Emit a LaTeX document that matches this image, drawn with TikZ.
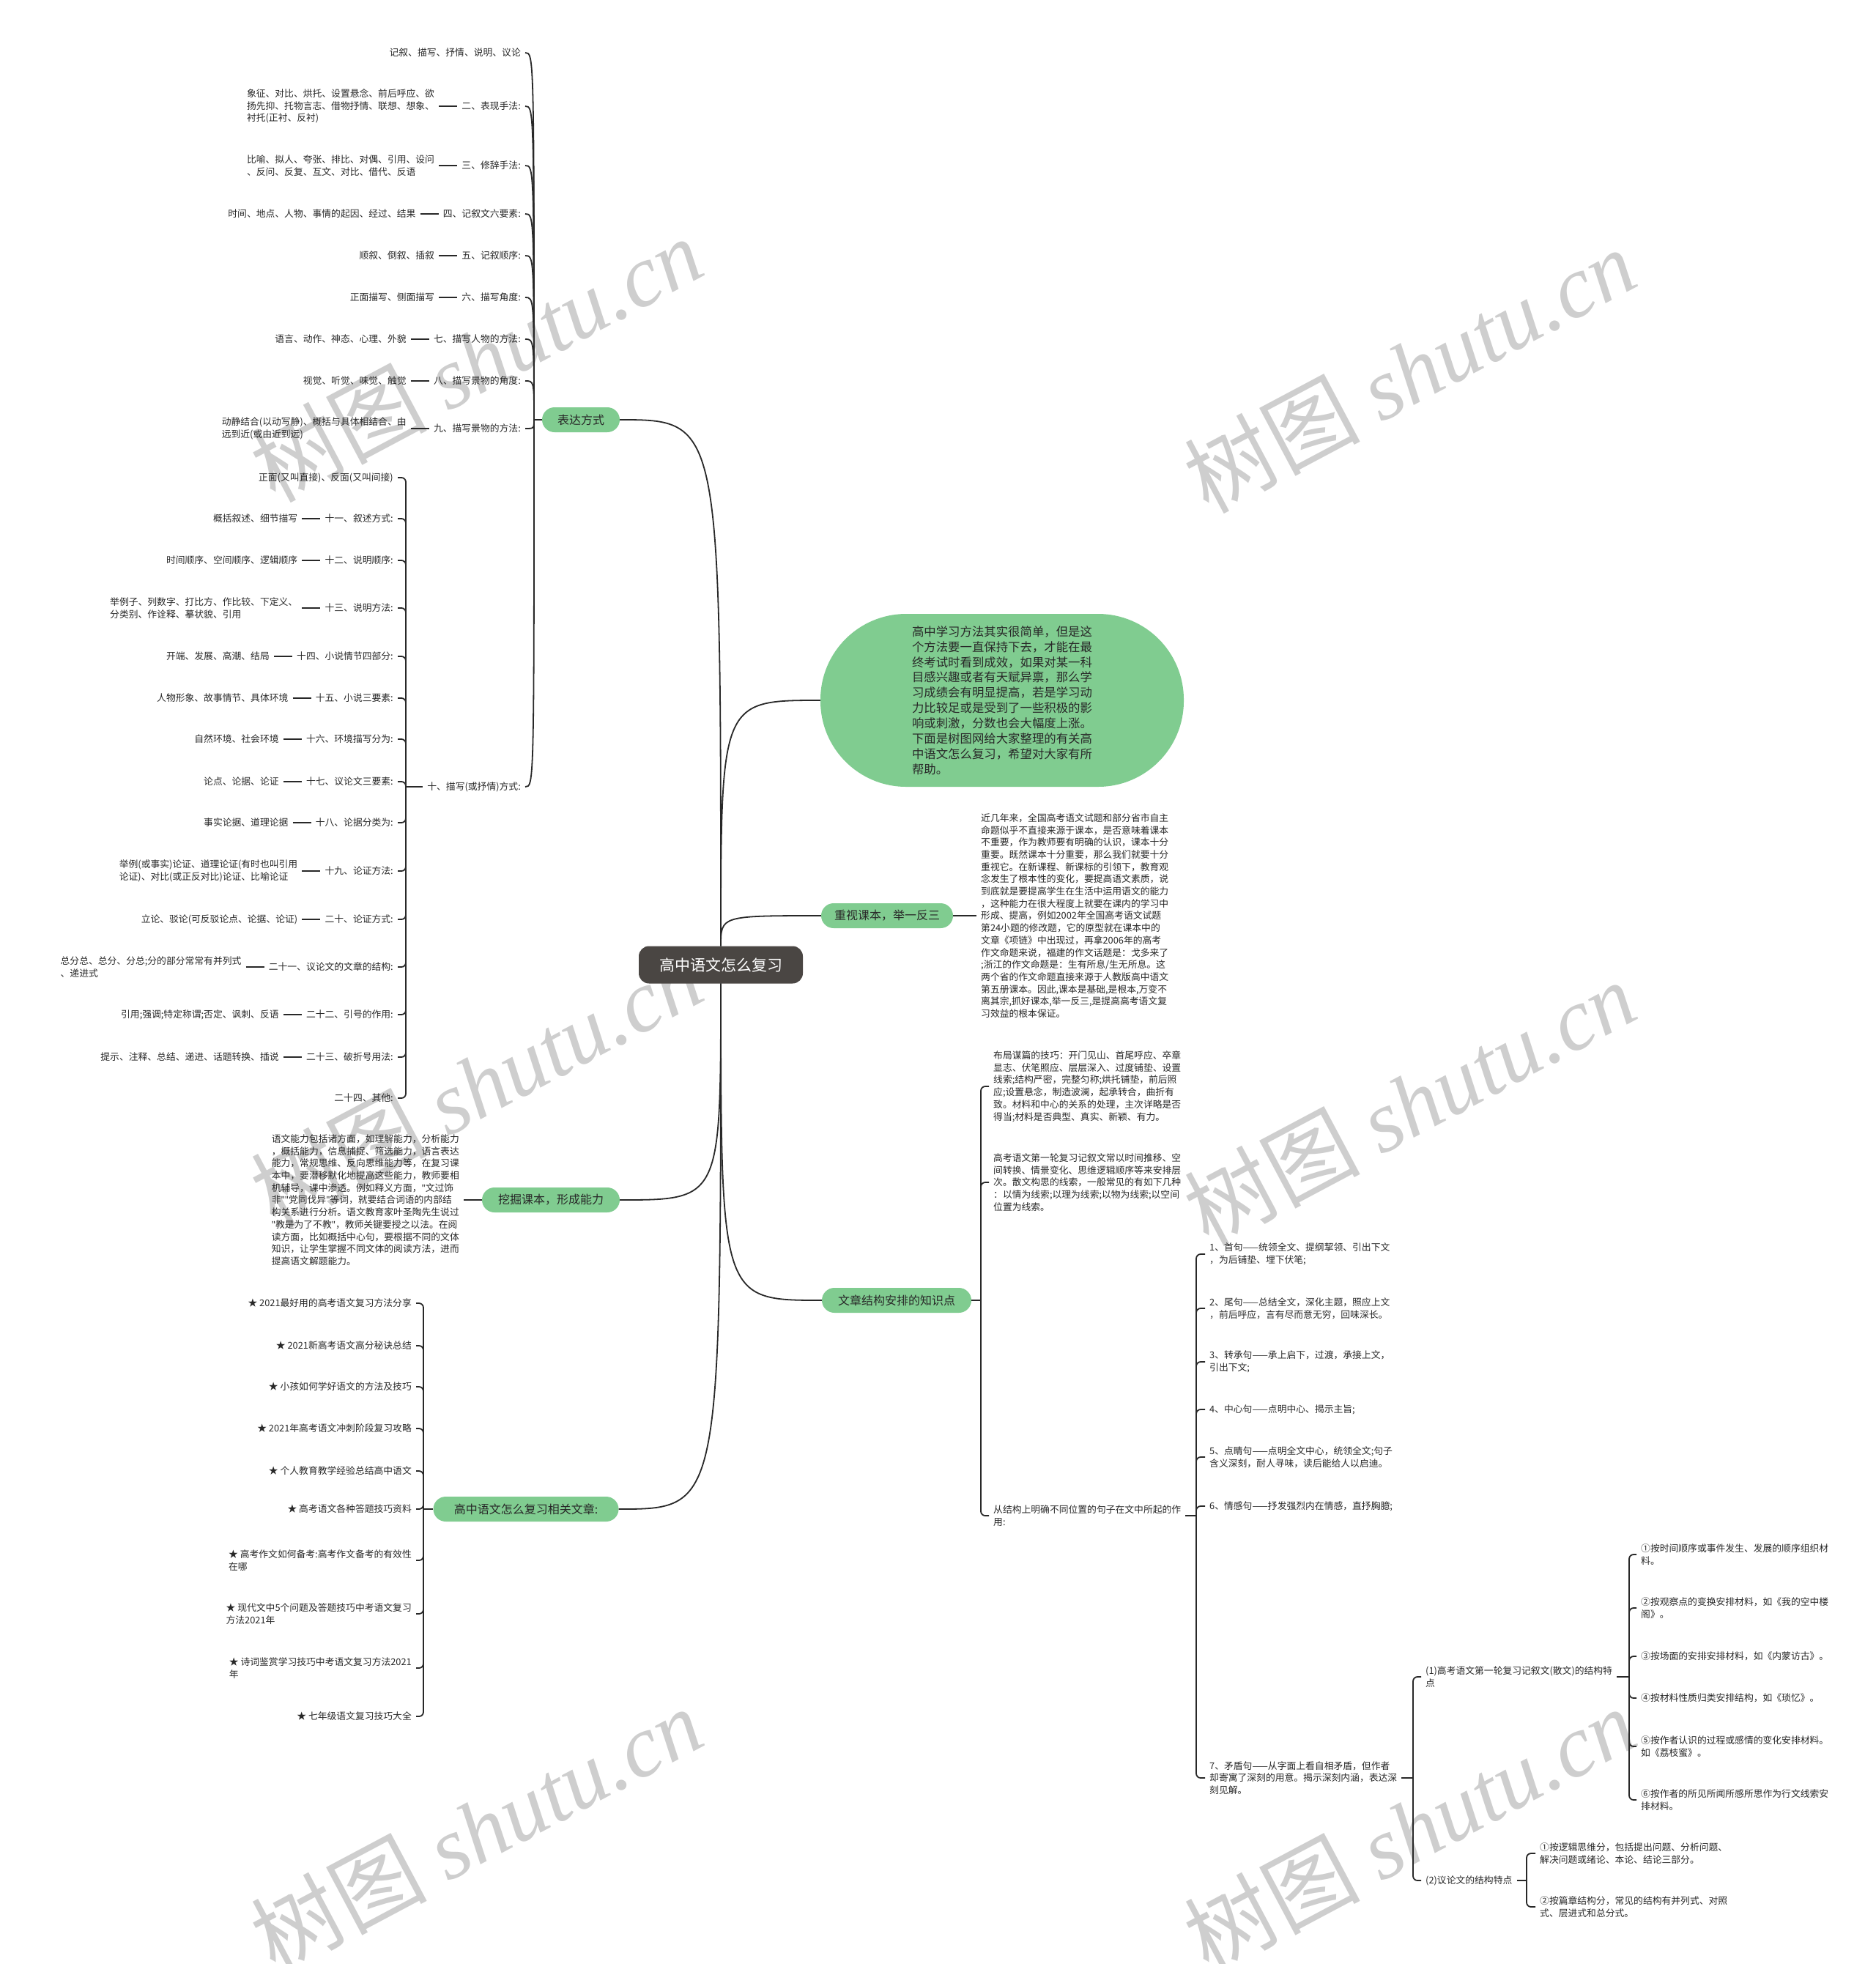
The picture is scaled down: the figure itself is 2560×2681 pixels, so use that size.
\documentclass[tikz,border=0pt]{standalone}
\usepackage{fontspec}
\setmainfont{Noto Sans CJK SC}
\newfontfamily\wmlatin{Liberation Serif}
\newfontfamily\latinq{Noto Sans}
\newcommand\qq{{\latinq"}}
\definecolor{mmgreen}{RGB}{128,204,144}
\definecolor{rootfill}{RGB}{74,70,67}
\definecolor{ink}{RGB}{40,40,40}
\definecolor{wmgray}{RGB}{206,206,206}
\tikzset{
  conn/.style={draw=ink, line width=1.8pt},
  hookline/.style={draw=ink, line width=1.8pt, rounded corners=6pt},
  gnode/.style={fill=mmgreen, rounded corners=17pt, minimum height=34pt, inner sep=0pt, text=ink, font=\fontsize{16}{19}\selectfont},
  rootnode/.style={fill=rootfill, rounded corners=14pt, minimum height=51pt, minimum width=224pt, inner sep=0pt, text=white, font=\fontsize{21}{25}\selectfont},
  tx/.style={inner xsep=6pt, inner ysep=2pt, text=ink, align=left, font=\fontsize{12.8}{16.7}\selectfont},
  wmark/.style={text=wmgray, rotate=28, inner sep=0pt, font=\fontsize{120}{120}\selectfont},
}
\begin{document}
\begin{tikzpicture}[x=1pt,y=-1pt]
\fill[white] (0,0) rectangle (2560,2681);
\useasboundingbox (0,0) rectangle (2560,2681);
% watermarks
\foreach \wx/\wy/\wn in {650/490/w1, 1924/505/w2, 650/1480/w3, 1924/1505/w4, 650/2497/w5, 1924/2497/w6}
  \node[wmark] (\wn) at (\wx,\wy) {树图 {\wmlatin\itshape shutu.cn}};

% main nodes
\node[rootnode] (root) at (984,1317) {高中语文怎么复习};
\node[gnode, minimum width=106pt] (bd) at (793,573) {表达方式};
\node[fill=mmgreen, rounded corners=117pt, minimum width=496pt, minimum height=236pt, inner sep=0pt, text=ink, align=left, font=\fontsize{16.4}{20.9}\selectfont] (intro) at (1368,956) {高中学习方法其实很简单，但是这\\个方法要一直保持下去，才能在最\\终考试时看到成效，如果对某一科\\目感兴趣或者有天赋异禀，那么学\\习成绩会有明显提高，若是学习动\\力比较足或是受到了一些积极的影\\响或刺激，分数也会大幅度上涨。\\下面是树图网给大家整理的有关高\\中语文怎么复习，希望对大家有所\\帮助。};
\node[gnode, minimum width=180pt] (zs) at (1211,1250) {重视课本，举一反三};
\node[gnode, minimum width=204pt] (wz) at (1224,1775) {文章结构安排的知识点};
\node[gnode, minimum width=188pt] (wj) at (752,1638) {挖掘课本，形成能力};
\node[gnode, minimum width=253pt] (xg) at (718,2060) {高中语文怎么复习相关文章:};

\draw[conn] (root.north) .. controls (root.north |- bd.east) .. (bd.east);
\draw[conn] (root.north) .. controls (root.north |- intro.west) .. (intro.west);
\draw[conn] (root.north) .. controls (root.north |- zs.west) .. (zs.west);
\draw[conn] (root.south) .. controls (root.south |- wz.west) .. (wz.west);
\draw[conn] (root.south) .. controls (root.south |- wj.east) .. (wj.east);
\draw[conn] (root.south) .. controls (root.south |- xg.east) .. (xg.east);

% 重视课本 text
\node[tx, anchor=west] (zst) at (1333,1250) {近几年来，全国高考语文试题和部分省市自主\\命题似乎不直接来源于课本，是否意味着课本\\不重要，作为教师要有明确的认识，课本十分\\重要。既然课本十分重要，那么我们就要十分\\重视它。在新课程、新课标的引领下，教育观\\念发生了根本性的变化，要提高语文素质，说\\到底就是要提高学生在生活中运用语文的能力\\，这种能力在很大程度上就要在课内的学习中\\形成、提高，例如2002年全国高考语文试题\\第24小题的修改题，它的原型就在课本中的\\文章《项链》中出现过，再拿2006年的高考\\作文命题来说，福建的作文话题是：戈多来了\\;浙江的作文命题是：生有所息/生无所息。这\\两个省的作文命题直接来源于人教版高中语文\\第五册课本。因此,课本是基础,是根本,万变不\\离其宗,抓好课本,举一反三,是提高高考语文复\\习效益的根本保证。};
\draw[conn] (zs.east) -- (zst.west);

% 挖掘课本 text
\node[tx, anchor=east] (wjt) at (633,1638) {语文能力包括诸方面，如理解能力，分析能力\\，概括能力，信息捕捉、筛选能力，语言表达\\能力，常规思维、反向思维能力等，在复习课\\本中，要潜移默化地提高这些能力，教师要相\\机辅导，课中渗透。例如释义方面，\qq 文过饰\\非\qq\qq 党同伐异\qq 等词，就要结合词语的内部结\\构关系进行分析。语文教育家叶圣陶先生说过\\\qq 教是为了不教\qq ，教师关键要授之以法。在阅\\读方面，比如概括中心句，要根据不同的文体\\知识，让学生掌握不同文体的阅读方法，进而\\提高语文解题能力。};
\draw[conn] (wj.west) -- (wjt.east);

% 表达方式 group
\coordinate (bdsp) at (729,573);
\draw[conn] (bd.west) -- (bdsp);
\node[tx, anchor=east] (b0) at (717,72) {记叙、描写、抒情、说明、议论};
\node[tx, anchor=east] (b2) at (717,145) {二、表现手法:};
\node[tx, anchor=east] (b3) at (717,226) {三、修辞手法:};
\node[tx, anchor=east] (b4) at (717,292) {四、记叙文六要素:};
\node[tx, anchor=east] (b5) at (717,349) {五、记叙顺序:};
\node[tx, anchor=east] (b6) at (717,406) {六、描写角度:};
\node[tx, anchor=east] (b7) at (717,463) {七、描写人物的方法:};
\node[tx, anchor=east] (b8) at (717,520) {八、描写景物的角度:};
\node[tx, anchor=east] (b9) at (717,585) {九、描写景物的方法:};
\node[tx, anchor=east] (b10) at (717,1074) {十、描写(或抒情)方式:};
\foreach \n in {b0,b2,b3,b4,b5,b6,b7,b8,b9,b10}
  \draw[conn] (bdsp) .. controls (bdsp |- \n.east) .. (\n.east);

\node[tx, anchor=east] (s2) at ([xshift=-25pt]b2.west) {象征、对比、烘托、设置悬念、前后呼应、欲\\扬先抑、托物言志、借物抒情、联想、想象、\\衬托(正衬、反衬)};
\node[tx, anchor=east] (s3) at ([xshift=-25pt]b3.west) {比喻、拟人、夸张、排比、对偶、引用、设问\\、反问、反复、互文、对比、借代、反语};
\node[tx, anchor=east] (s4) at ([xshift=-25pt]b4.west) {时间、地点、人物、事情的起因、经过、结果};
\node[tx, anchor=east] (s5) at ([xshift=-25pt]b5.west) {顺叙、倒叙、插叙};
\node[tx, anchor=east] (s6) at ([xshift=-25pt]b6.west) {正面描写、侧面描写};
\node[tx, anchor=east] (s7) at ([xshift=-25pt]b7.west) {语言、动作、神态、心理、外貌};
\node[tx, anchor=east] (s8) at ([xshift=-25pt]b8.west) {视觉、听觉、味觉、触觉};
\node[tx, anchor=east] (s9) at ([xshift=-25pt]b9.west) {动静结合(以动写静)、概括与具体相结合、由\\远到近(或由近到远)};
\foreach \n in {2,3,4,5,6,7,8,9}
  \draw[conn] (s\n.east) -- (b\n.west);

% 十 group
\coordinate (tsp) at (554,1074);
\draw[conn] (b10.west) -- (tsp);
\node[tx, anchor=east] (t0) at (543,652) {正面(又叫直接)、反面(又叫间接)};
\node[tx, anchor=east] (t11) at (543,708) {十一、叙述方式:};
\node[tx, anchor=east] (t12) at (543,765) {十二、说明顺序:};
\node[tx, anchor=east] (t13) at (543,830) {十三、说明方法:};
\node[tx, anchor=east] (t14) at (543,896) {十四、小说情节四部分:};
\node[tx, anchor=east] (t15) at (543,953) {十五、小说三要素:};
\node[tx, anchor=east] (t16) at (543,1009) {十六、环境描写分为:};
\node[tx, anchor=east] (t17) at (543,1067) {十七、议论文三要素:};
\node[tx, anchor=east] (t18) at (543,1123) {十八、论据分类为:};
\node[tx, anchor=east] (t19) at (543,1189) {十九、论证方法:};
\node[tx, anchor=east] (t20) at (543,1255) {二十、论证方式:};
\node[tx, anchor=east] (t21) at (543,1320) {二十一、议论文的文章的结构:};
\node[tx, anchor=east] (t22) at (543,1385) {二十二、引号的作用:};
\node[tx, anchor=east] (t23) at (543,1443) {二十三、破折号用法:};
\node[tx, anchor=east] (t24) at (543,1499) {二十四、其他:};
\foreach \n in {t0,t11,t12,t13,t14,t15,t16,t17,t18,t19,t20,t21,t22,t23,t24}
  \draw[hookline] (tsp) |- (\n.east);

\node[tx, anchor=east] (u11) at ([xshift=-25pt]t11.west) {概括叙述、细节描写};
\node[tx, anchor=east] (u12) at ([xshift=-25pt]t12.west) {时间顺序、空间顺序、逻辑顺序};
\node[tx, anchor=east] (u13) at ([xshift=-25pt]t13.west) {举例子、列数字、打比方、作比较、下定义、\\分类别、作诠释、摹状貌、引用};
\node[tx, anchor=east] (u14) at ([xshift=-25pt]t14.west) {开端、发展、高潮、结局};
\node[tx, anchor=east] (u15) at ([xshift=-25pt]t15.west) {人物形象、故事情节、具体环境};
\node[tx, anchor=east] (u16) at ([xshift=-25pt]t16.west) {自然环境、社会环境};
\node[tx, anchor=east] (u17) at ([xshift=-25pt]t17.west) {论点、论据、论证};
\node[tx, anchor=east] (u18) at ([xshift=-25pt]t18.west) {事实论据、道理论据};
\node[tx, anchor=east] (u19) at ([xshift=-25pt]t19.west) {举例(或事实)论证、道理论证(有时也叫引用\\论证)、对比(或正反对比)论证、比喻论证};
\node[tx, anchor=east] (u20) at ([xshift=-25pt]t20.west) {立论、驳论(可反驳论点、论据、论证)};
\node[tx, anchor=east] (u21) at ([xshift=-25pt]t21.west) {总分总、总分、分总;分的部分常常有并列式\\、递进式};
\node[tx, anchor=east] (u22) at ([xshift=-25pt]t22.west) {引用;强调;特定称谓;否定、讽刺、反语};
\node[tx, anchor=east] (u23) at ([xshift=-25pt]t23.west) {提示、注释、总结、递进、话题转换、插说};
\foreach \n in {11,12,13,14,15,16,17,18,19,20,21,22,23}
  \draw[conn] (u\n.east) -- (t\n.west);

% 相关文章 group
\coordinate (xsp) at (578,2060);
\draw[conn] (xg.west) -- (xsp);
\node[tx, anchor=east] (r1) at (568,1779) {★ 2021最好用的高考语文复习方法分享};
\node[tx, anchor=east] (r2) at (568,1837) {★ 2021新高考语文高分秘诀总结};
\node[tx, anchor=east] (r3) at (568,1893) {★ 小孩如何学好语文的方法及技巧};
\node[tx, anchor=east] (r4) at (568,1950) {★ 2021年高考语文冲刺阶段复习攻略};
\node[tx, anchor=east] (r5) at (568,2008) {★ 个人教育教学经验总结高中语文};
\node[tx, anchor=east] (r6) at (568,2060) {★ 高考语文各种答题技巧资料};
\node[tx, anchor=east] (r7) at (568,2130) {★ 高考作文如何备考:高考作文备考的有效性\\在哪};
\node[tx, anchor=east] (r8) at (568,2203) {★ 现代文中5个问题及答题技巧中考语文复习\\方法2021年};
\node[tx, anchor=east] (r9) at (568,2277) {★ 诗词鉴赏学习技巧中考语文复习方法2021\\年};
\node[tx, anchor=east] (r10) at (568,2343) {★ 七年级语文复习技巧大全};
\foreach \n in {r1,r2,r3,r4,r5,r6,r7,r8,r9,r10}
  \draw[hookline] (xsp) |- (\n.east);

% 文章结构 group
\coordinate (wsp) at (1339,1775);
\draw[conn] (wz.east) -- (wsp);
\node[tx, anchor=west] (c1) at (1350,1483) {布局谋篇的技巧：开门见山、首尾呼应、卒章\\显志、伏笔照应、层层深入、过度铺垫、设置\\线索;结构严密，完整匀称;烘托铺垫，前后照\\应;设置悬念，制造波澜，起承转合，曲折有\\致。材料和中心的关系的处理，主次详略是否\\得当;材料是否典型、真实、新颖、有力。};
\node[tx, anchor=west] (c2) at (1350,1614) {高考语文第一轮复习记叙文常以时间推移、空\\间转换、情景变化、思维逻辑顺序等来安排层\\次。散文构思的线索，一般常见的有如下几种\\：以情为线索;以理为线索;以物为线索;以空间\\位置为线索。};
\node[tx, anchor=west] (c3) at (1350,2069) {从结构上明确不同位置的句子在文中所起的作\\用:};
\foreach \n in {c1,c2,c3}
  \draw[hookline] (wsp) |- (\n.west);

% 从结构 group
\coordinate (csp) at (1633,2069);
\draw[conn] (c3.east) -- (csp);
\node[tx, anchor=west] (d1) at (1645,1712) {1、首句——统领全文、提纲挈领、引出下文\\，为后铺垫、埋下伏笔;};
\node[tx, anchor=west] (d2) at (1645,1786) {2、尾句——总结全文，深化主题，照应上文\\，前后呼应，言有尽而意无穷，回味深长。};
\node[tx, anchor=west] (d3) at (1645,1859) {3、转承句——承上启下，过渡，承接上文，\\引出下文;};
\node[tx, anchor=west] (d4) at (1645,1924) {4、中心句——点明中心、揭示主旨;};
\node[tx, anchor=west] (d5) at (1645,1989) {5、点睛句——点明全文中心，统领全文;句子\\含义深刻，耐人寻味，读后能给人以启迪。};
\node[tx, anchor=west] (d6) at (1645,2056) {6、情感句——抒发强烈内在情感，直抒胸臆;};
\node[tx, anchor=west] (d7) at (1645,2427) {7、矛盾句——从字面上看自相矛盾，但作者\\却寄寓了深刻的用意。揭示深刻内涵，表达深\\刻见解。};
\foreach \n in {d1,d2,d3,d4,d5,d6,d7}
  \draw[hookline] (csp) |- (\n.west);

% 矛盾句 group
\coordinate (dsp) at (1929,2427);
\draw[conn] (d7.east) -- (dsp);
\node[tx, anchor=west] (e1) at (1940,2289) {(1)高考语文第一轮复习记叙文(散文)的结构特\\点};
\node[tx, anchor=west] (e2) at (1940,2567) {(2)议论文的结构特点};
\foreach \n in {e1,e2}
  \draw[hookline] (dsp) |- (\n.west);

% (1) group
\coordinate (fsp) at (2224,2289);
\draw[conn] (e1.east) -- (fsp);
\node[tx, anchor=west] (f1) at (2234,2122) {①按时间顺序或事件发生、发展的顺序组织材\\料。};
\node[tx, anchor=west] (f2) at (2234,2195) {②按观察点的变换安排材料，如《我的空中楼\\阁》。};
\node[tx, anchor=west] (f3) at (2234,2261) {③按场面的安排安排材料，如《内蒙访古》。};
\node[tx, anchor=west] (f4) at (2234,2318) {④按材料性质归类安排结构，如《琐忆》。};
\node[tx, anchor=west] (f5) at (2234,2384) {⑤按作者认识的过程或感情的变化安排材料。\\如《荔枝蜜》。};
\node[tx, anchor=west] (f6) at (2234,2457) {⑥按作者的所见所闻所感所思作为行文线索安\\排材料。};
\foreach \n in {f1,f2,f3,f4,f5,f6}
  \draw[hookline] (fsp) |- (\n.west);

% (2) group
\coordinate (gsp) at (2084,2567);
\draw[conn] (e2.east) -- (gsp);
\node[tx, anchor=west] (g1) at (2096,2530) {①按逻辑思维分，包括提出问题、分析问题、\\解决问题或绪论、本论、结论三部分。};
\node[tx, anchor=west] (g2) at (2096,2603) {②按篇章结构分，常见的结构有并列式、对照\\式、层进式和总分式。};
\foreach \n in {g1,g2}
  \draw[hookline] (gsp) |- (\n.west);
\end{tikzpicture}
\end{document}
